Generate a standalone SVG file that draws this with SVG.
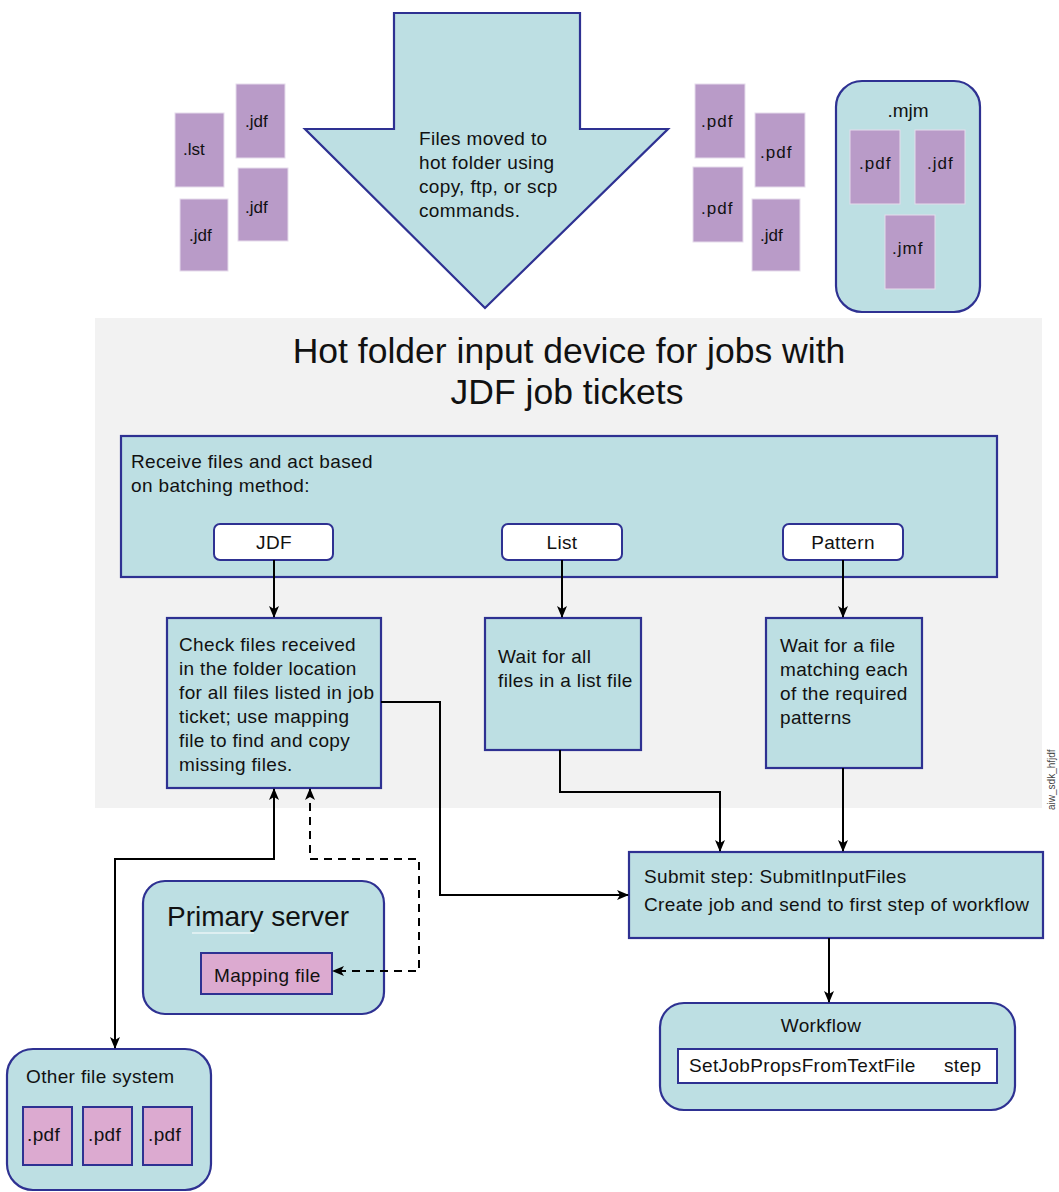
<svg xmlns="http://www.w3.org/2000/svg" width="1059" height="1192" viewBox="0 0 1059 1192">
<style>
text{font-family:"Liberation Sans",Arial,sans-serif;fill:#111}
.t{font-size:19px;letter-spacing:0.35px}
.f{font-size:17px}
.teal{fill:#bddfe3;stroke:#2e3192;stroke-width:2.2}
.file{fill:#b99bc8;stroke:#e6dcec;stroke-width:1}
.pink{fill:#dcaad0;stroke:#2e3192;stroke-width:2}
.btn{fill:#ffffff;stroke:#2e3192;stroke-width:2}
.c{fill:none;stroke:#000;stroke-width:2}
.d{fill:none;stroke:#000;stroke-width:2;stroke-dasharray:8,6}
</style>
<defs>
<marker id="ah" viewBox="0 0 12 10" refX="11" refY="5" markerWidth="12" markerHeight="10" markerUnits="userSpaceOnUse" orient="auto-start-reverse">
<path d="M0,0 L12,5 L0,10 L3,5 z" fill="#000"/>
</marker>
</defs>
<rect x="0" y="0" width="1059" height="1192" fill="#ffffff"/>
<rect id="panel" x="95" y="318" width="947" height="490" fill="#f2f2f2"/>

<g id="arrow-input">
<polygon class="teal" stroke-width="3" points="394,13 580,13 580,129 668,129 485,308 305,129 394,129"/>
<text class="t" x="419" y="145">Files moved to</text>
<text class="t" x="419" y="169">hot folder using</text>
<text class="t" x="419" y="193">copy, ftp, or scp</text>
<text class="t" x="419" y="217">commands.</text>
</g>

<g id="left-files">
<rect class="file" x="175" y="113" width="49" height="74"/>
<text class="f" x="183" y="155">.lst</text>
<rect class="file" x="236" y="84" width="49" height="74"/>
<text class="f" x="245" y="127">.jdf</text>
<rect class="file" x="238" y="168" width="50" height="73"/>
<text class="f" x="245" y="213">.jdf</text>
<rect class="file" x="180" y="199" width="48" height="72"/>
<text class="f" x="189" y="241">.jdf</text>
</g>

<g id="right-files">
<rect class="file" x="695" y="84" width="50" height="74"/>
<text class="f" x="701" y="127" letter-spacing="1">.pdf</text>
<rect class="file" x="755" y="113" width="50" height="74"/>
<text class="f" x="760" y="158" letter-spacing="1">.pdf</text>
<rect class="file" x="693" y="167" width="50" height="75"/>
<text class="f" x="701" y="214" letter-spacing="1">.pdf</text>
<rect class="file" x="752" y="199" width="48" height="72"/>
<text class="f" x="760" y="241">.jdf</text>
</g>

<g id="mjm">
<rect class="teal" x="836" y="81" width="144" height="231" rx="26"/>
<text x="908" y="117" font-size="19" text-anchor="middle">.mjm</text>
<rect class="file" x="850" y="130" width="50" height="74"/>
<text class="f" x="859" y="169" letter-spacing="1">.pdf</text>
<rect class="file" x="915" y="130" width="50" height="74"/>
<text class="f" x="927" y="169" letter-spacing="1">.jdf</text>
<rect class="file" x="885" y="215" width="50" height="74"/>
<text class="f" x="892" y="254" letter-spacing="1">.jmf</text>
</g>

<g id="title">
<text x="569" y="363" font-size="35.5" text-anchor="middle">Hot folder input device for jobs with</text>
<text x="567" y="404" font-size="35.5" text-anchor="middle">JDF job tickets</text>
</g>

<g id="receive">
<rect class="teal" x="121" y="436" width="876" height="141"/>
<text class="t" x="131" y="468">Receive files and act based</text>
<text class="t" x="131" y="492">on batching method:</text>
</g>
<g id="btn-jdf">
<rect class="btn" x="214" y="524" width="119" height="36" rx="6"/>
<text class="t" x="274" y="549" text-anchor="middle">JDF</text>
</g>
<g id="btn-list">
<rect class="btn" x="502" y="524" width="120" height="36" rx="6"/>
<text class="t" x="562" y="549" text-anchor="middle">List</text>
</g>
<g id="btn-pattern">
<rect class="btn" x="783" y="524" width="120" height="36" rx="6"/>
<text class="t" x="843" y="549" text-anchor="middle">Pattern</text>
</g>

<g id="check">
<rect class="teal" x="167" y="618" width="214" height="170"/>
<text class="t" x="179" y="651">Check files received</text>
<text class="t" x="179" y="675">in the folder location</text>
<text class="t" x="179" y="699">for all files listed in job</text>
<text class="t" x="179" y="723">ticket; use mapping</text>
<text class="t" x="179" y="747">file to find and copy</text>
<text class="t" x="179" y="771">missing files.</text>
</g>

<g id="wait-list">
<rect class="teal" x="485" y="618" width="156" height="132"/>
<text class="t" x="498" y="663">Wait for all</text>
<text class="t" x="498" y="687">files in a list file</text>
</g>

<g id="wait-pattern">
<rect class="teal" x="766" y="618" width="156" height="150"/>
<text class="t" x="780" y="652">Wait for a file</text>
<text class="t" x="780" y="676">matching each</text>
<text class="t" x="780" y="700">of the required</text>
<text class="t" x="780" y="724">patterns</text>
</g>

<g id="submit">
<rect class="teal" x="629" y="852" width="414" height="86"/>
<text class="t" x="644" y="883">Submit step: SubmitInputFiles</text>
<text class="t" x="644" y="911">Create job and send to first step of workflow</text>
</g>

<g id="workflow">
<rect class="teal" x="660" y="1003" width="355" height="107" rx="24"/>
<text class="t" x="821" y="1032" text-anchor="middle">Workflow</text>
<rect x="678" y="1049" width="319" height="34" fill="#ffffff" stroke="#2e3192" stroke-width="2"/>
<text class="t" x="689" y="1072">SetJobPropsFromTextFile</text>
<text class="t" x="944" y="1072">step</text>
</g>

<g id="primary">
<rect class="teal" x="143" y="881" width="241" height="133" rx="22"/>
<text x="167" y="926" font-size="28">Primary server</text>
<line x1="192" y1="933" x2="254" y2="933" stroke="#ffffff" stroke-width="1"/>
<rect class="pink" x="201" y="953" width="131" height="41"/>
<text class="t" x="214" y="982">Mapping file</text>
</g>

<g id="other-fs">
<rect class="teal" x="7" y="1049" width="204" height="141" rx="26"/>
<text class="t" x="26" y="1083">Other file system</text>
<rect class="pink" x="23" y="1107" width="49" height="58"/>
<text class="t" x="27" y="1141">.pdf</text>
<rect class="pink" x="83" y="1107" width="49" height="58"/>
<text class="t" x="88" y="1141">.pdf</text>
<rect class="pink" x="143" y="1107" width="49" height="58"/>
<text class="t" x="148" y="1141">.pdf</text>
</g>

<g id="connectors">
<line class="c" x1="274" y1="560" x2="274" y2="617" marker-end="url(#ah)"/>
<line class="c" x1="562" y1="560" x2="562" y2="617" marker-end="url(#ah)"/>
<line class="c" x1="843" y1="560" x2="843" y2="617" marker-end="url(#ah)"/>
<polyline class="c" points="381,702 440,702 440,895 628,895" marker-end="url(#ah)"/>
<polyline class="c" points="560,750 560,792 720,792 720,851" marker-end="url(#ah)"/>
<line class="c" x1="843" y1="768" x2="843" y2="851" marker-end="url(#ah)"/>
<line class="c" x1="829" y1="938" x2="829" y2="1002" marker-end="url(#ah)"/>
<polyline class="c" points="274,789 274,859 115,859 115,1048" marker-start="url(#ah)" marker-end="url(#ah)"/>
<polyline class="d" points="310,789 310,859 419,859 419,971 333,971" marker-start="url(#ah)" marker-end="url(#ah)"/>
</g>

<text x="1055" y="810" font-size="10" transform="rotate(-90 1055 810)" style="fill:#444">aiw_sdk_hfjdf</text>
</svg>
